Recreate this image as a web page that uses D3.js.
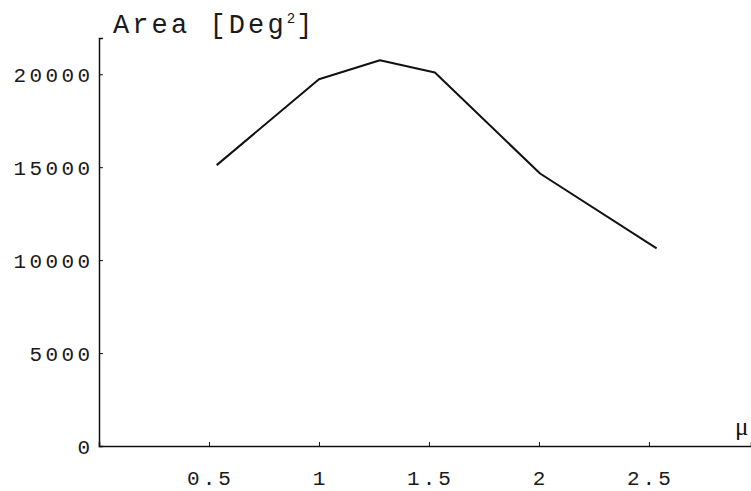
<!DOCTYPE html>
<html>
<head>
<meta charset="utf-8">
<script src="https://cdn.jsdelivr.net/npm/d3@7"></script>
<style>
  body { margin: 0; background: #fff; }
  svg { display: block; }
  .lbl { font-family: "Liberation Mono", "DejaVu Sans Mono", monospace; font-size: 21px; fill: #1a1a1a; letter-spacing: 3px; }
</style>
</head>
<body>
<svg id="chart"></svg>
<script>
// values
const mu = [0.535, 1.0, 1.277, 1.527, 2.005, 2.535]
const area = [15110, 19730, 20750, 20090, 14660, 10630]
const xTicks = [0.5, 1, 1.5, 2, 2.5]
const yTicks = [0, 5000, 10000, 15000, 20000]

const width = 751, height = 491
const svg = d3.select('#chart')
  .attr('width', width)
  .attr('height', height)

const x = d3.scaleLinear()
  .domain([0, 2.964])
  .range([99, 751])
const y = d3.scaleLinear()
  .domain([0, 21950])
  .range([446, 38])

// x axis, ticks point up into the plot
const xAxis = svg.append('g')
  .attr('transform', 'translate(0,' + y(0) + ')')
  .call(d3.axisTop(x).tickValues(xTicks).tickSize(4).tickFormat(''))
xAxis.select('.domain').attr('stroke', '#111').attr('stroke-width', 1.5)
xAxis.selectAll('.tick line').attr('stroke', '#111').attr('stroke-width', 1)

// y axis, ticks point right into the plot
const yAxis = svg.append('g')
  .attr('transform', 'translate(' + x(0) + ',0)')
  .call(d3.axisRight(y).tickValues(yTicks.filter(d => d > 0)).tickSize(4).tickFormat(''))
yAxis.select('.domain').attr('stroke', '#111').attr('stroke-width', 1.5)
yAxis.selectAll('.tick line').attr('stroke', '#111').attr('stroke-width', 1)

// tick labels
svg.append('g').selectAll('text')
  .data(xTicks)
  .join('text')
  .attr('class', 'lbl')
  .attr('x', d => x(d) + 1.5)
  .attr('y', 485)
  .attr('text-anchor', 'middle')
  .text(d => d)

svg.append('g').selectAll('text')
  .data(yTicks)
  .join('text')
  .attr('class', 'lbl')
  .style('letter-spacing', '3.4px')
  .attr('x', 93.5)
  .attr('y', d => y(d) + 7.5)
  .attr('text-anchor', 'end')
  .text(d => d)

// axis titles
const title = svg.append('text')
  .attr('class', 'lbl')
  .attr('x', 113)
  .attr('y', 33)
  .style('font-size', '27px')
  .style('letter-spacing', '3.1px')
title.append('tspan').text('Area [Deg')
title.append('tspan').attr('dy', -10).style('font-size', '14px').style('letter-spacing', '1px').text('2')
title.append('tspan').attr('dy', 10).text(']')

svg.append('text')
  .attr('x', 735)
  .attr('y', 435)
  .style('font-family', '"Liberation Serif", serif')
  .style('font-size', '25px')
  .style('fill', '#111')
  .text('\u03bc')

// the curve
const line = d3.line()
  .x((d, i) => x(mu[i]))
  .y(d => y(d))
svg.append('path')
  .datum(area)
  .attr('d', line)
  .attr('fill', 'none')
  .attr('stroke', '#111')
  .attr('stroke-width', 2)
  .attr('stroke-linejoin', 'round')
</script>
</body>
</html>
